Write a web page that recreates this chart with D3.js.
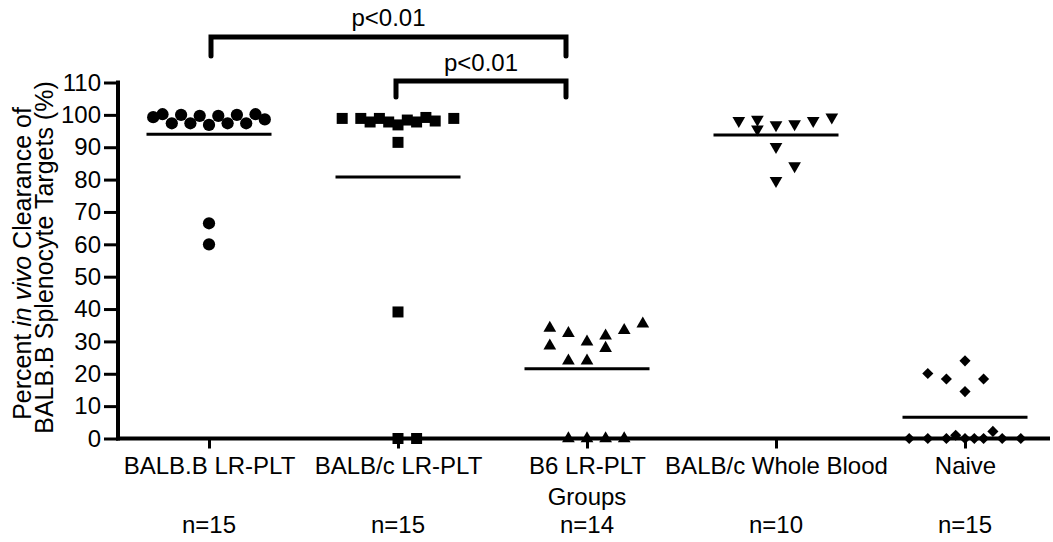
<!DOCTYPE html>
<html>
<head>
<meta charset="utf-8">
<script src="https://cdn.jsdelivr.net/npm/d3@7"></script>
<style>
  html, body { margin: 0; padding: 0; background: #fff; }
  svg { display: block; font-family: "Liberation Sans", Arial, sans-serif; }
</style>
</head>
<body>
<svg id="chart" width="1053" height="542"></svg>
<script>
// ---- data -------------------------------------------------------------
const groups = ["BALB.B LR-PLT", "BALB/c LR-PLT", "B6 LR-PLT", "BALB/c Whole Blood", "Naive"];
const groupCounts = ["n=15", "n=15", "n=14", "n=10", "n=15"];
const yTickValues = [0, 10, 20, 30, 40, 50, 60, 70, 80, 90, 100, 110];

// percent clearance per animal, with its column slot in the scatter
const balbBValues = [99.3, 100.2, 97.4, 100.0, 97.4, 99.7, 96.9, 99.7, 97.4, 100.0, 97.4, 100.2, 98.6, 66.5, 60.0];
const balbBSlots  = [-6, -5, -4, -3, -2, -1, 0, 1, 2, 3, 4, 5, 6, 0, 0];

const balbCValues = [98.9, 98.9, 97.8, 98.9, 97.8, 96.9, 98.4, 97.8, 99.2, 98.1, 98.9, 91.5, 39.1, 0, 0];
const balbCSlots  = [-6, -4, -3, -2, -1, 0, 1, 2, 3, 4, 6, 0, 0, 0, 2];

const b6Values = [34.1, 28.6, 32.5, 24.0, 29.9, 24.0, 31.7, 27.9, 33.4, 35.4, 0, 0, 0, 0];
const b6Slots  = [-4, -4, -2, -2, 0, 0, 2, 2, 4, 6, -2, 0, 2, 4];

const wholeBloodValues = [98.2, 98.6, 95.6, 96.9, 90.2, 79.7, 97.2, 84.2, 98.2, 99.3];
const wholeBloodSlots  = [-4, -2, -2, 0, 0, 0, 2, 2, 4, 6];

const naiveValues = [20.1, 18.4, 24.0, 14.5, 18.4, 0, 0, 0, 1.0, 0, 0, 0, 2.2, 0, 0];
const naiveSlots  = [-4, -2, 0, 0, 2, -6, -4, -2, -1, 0, 1, 2, 3, 4, 6];

const comparisons = [
  { from: "BALB.B LR-PLT", to: "B6 LR-PLT", label: "p<0.01" },
  { from: "BALB/c LR-PLT", to: "B6 LR-PLT", label: "p<0.01" }
];

// ---- layout -----------------------------------------------------------
const svg = d3.select("#chart");
const axisLeftX = 118;
const axisRightX = 1050;
const fontSize = 24;

const x = d3.scalePoint().domain(groups).range([209, 965]);
const y = d3.scaleLinear().domain([0, 110]).range([438.5, 82.5]);
const slot = d3.scaleLinear().domain([0, 1]).range([0, 9.3]);

const series = [
  { group: groups[0], values: balbBValues, slots: balbBSlots, symbol: d3.symbolCircle, size: 118, rotate: 0 },
  { group: groups[1], values: balbCValues, slots: balbCSlots, symbol: d3.symbolSquare, size: 121, rotate: 0 },
  { group: groups[2], values: b6Values, slots: b6Slots, symbol: d3.symbolTriangle, size: 70, rotate: 0 },
  { group: groups[3], values: wholeBloodValues, slots: wholeBloodSlots, symbol: d3.symbolTriangle, size: 70, rotate: 180 },
  { group: groups[4], values: naiveValues, slots: naiveSlots, symbol: d3.symbolSquare, size: 62, rotate: 45 }
];

// ---- axes -------------------------------------------------------------
const yAxis = d3.axisLeft(y).tickValues(yTickValues).tickSize(14).tickSizeOuter(0).tickPadding(3);
const gy = svg.append("g").attr("transform", `translate(${axisLeftX},0)`).call(yAxis);
gy.select(".domain").remove();
gy.selectAll(".tick line").attr("stroke", "#000").attr("stroke-width", 3);
gy.selectAll(".tick text").attr("font-size", fontSize).attr("fill", "#000")
  .attr("font-family", "Liberation Sans, Arial, sans-serif");

const xAxis = d3.axisBottom(x).tickSize(10).tickSizeOuter(0).tickPadding(8);
const gx = svg.append("g").attr("transform", `translate(0,${y(0)})`).call(xAxis);
gx.select(".domain").remove();
gx.selectAll(".tick line").attr("stroke", "#000").attr("stroke-width", 3);
gx.selectAll(".tick text").attr("font-size", fontSize).attr("fill", "#000")
  .attr("font-family", "Liberation Sans, Arial, sans-serif");

// axis lines
svg.append("line")
  .attr("x1", axisLeftX).attr("x2", axisLeftX)
  .attr("y1", y(110) - 2).attr("y2", y(0) + 2)
  .attr("stroke", "#000").attr("stroke-width", 4);
svg.append("line")
  .attr("x1", axisLeftX - 2).attr("x2", axisRightX)
  .attr("y1", y(0)).attr("y2", y(0))
  .attr("stroke", "#000").attr("stroke-width", 4);

// axis titles
const titleY = (y(0) + y(110)) / 2;
const yTitle = svg.append("text")
  .attr("transform", `translate(31,${titleY + 3}) rotate(-90)`)
  .attr("text-anchor", "middle").attr("font-size", 25).attr("fill", "#000");
yTitle.append("tspan").text("Percent ");
yTitle.append("tspan").attr("font-style", "italic").text("in vivo");
yTitle.append("tspan").text(" Clearance of");

svg.append("text")
  .attr("transform", `translate(53,${titleY - 3}) rotate(-90)`)
  .attr("text-anchor", "middle").attr("font-size", 25).attr("fill", "#000")
  .text("BALB.B Splenocyte Targets (%)");

svg.append("text")
  .attr("x", x(groups[2])).attr("y", 505)
  .attr("text-anchor", "middle").attr("font-size", fontSize).attr("fill", "#000")
  .text("Groups");

svg.selectAll("text.count").data(groups).join("text")
  .attr("class", "count")
  .attr("x", d => x(d)).attr("y", 533)
  .attr("text-anchor", "middle").attr("font-size", fontSize).attr("fill", "#000")
  .text((d, i) => groupCounts[i]);

// ---- mean lines -------------------------------------------------------
svg.selectAll("line.mean").data(series).join("line")
  .attr("class", "mean")
  .attr("x1", d => x(d.group) - 62.5).attr("x2", d => x(d.group) + 62.5)
  .attr("y1", d => y(d3.mean(d.values))).attr("y2", d => y(d3.mean(d.values)))
  .attr("stroke", "#000").attr("stroke-width", 3);

// ---- points -----------------------------------------------------------
series.forEach(s => {
  const sym = d3.symbol().type(s.symbol).size(s.size);
  svg.append("g").selectAll("path").data(s.values.map((v, i) => ({ v, k: s.slots[i] }))).join("path")
    .attr("d", sym)
    .attr("transform", d => `translate(${x(s.group) + slot(d.k)},${y(d.v)}) rotate(${s.rotate})`)
    .attr("fill", "#000");
});

// ---- significance brackets -------------------------------------------
const bracketLevels = [{ barY: 37, legY: 56, textY: 26 }, { barY: 81, legY: 97, textY: 71 }];
comparisons.forEach((c, i) => {
  const lv = bracketLevels[i];
  const x1 = x(c.from) + (i === 0 ? 2 : -2);
  const x2 = x(c.to) - 21;
  svg.append("path")
    .attr("d", `M${x1},${lv.legY}V${lv.barY}H${x2}V${lv.legY}`)
    .attr("fill", "none").attr("stroke", "#000").attr("stroke-width", 5)
    .attr("stroke-linejoin", "miter").attr("stroke-linecap", "round");
  svg.append("text")
    .attr("x", (x1 + x2) / 2).attr("y", lv.textY)
    .attr("text-anchor", "middle").attr("font-size", fontSize).attr("fill", "#000")
    .text(c.label);
});
</script>
</body>
</html>
